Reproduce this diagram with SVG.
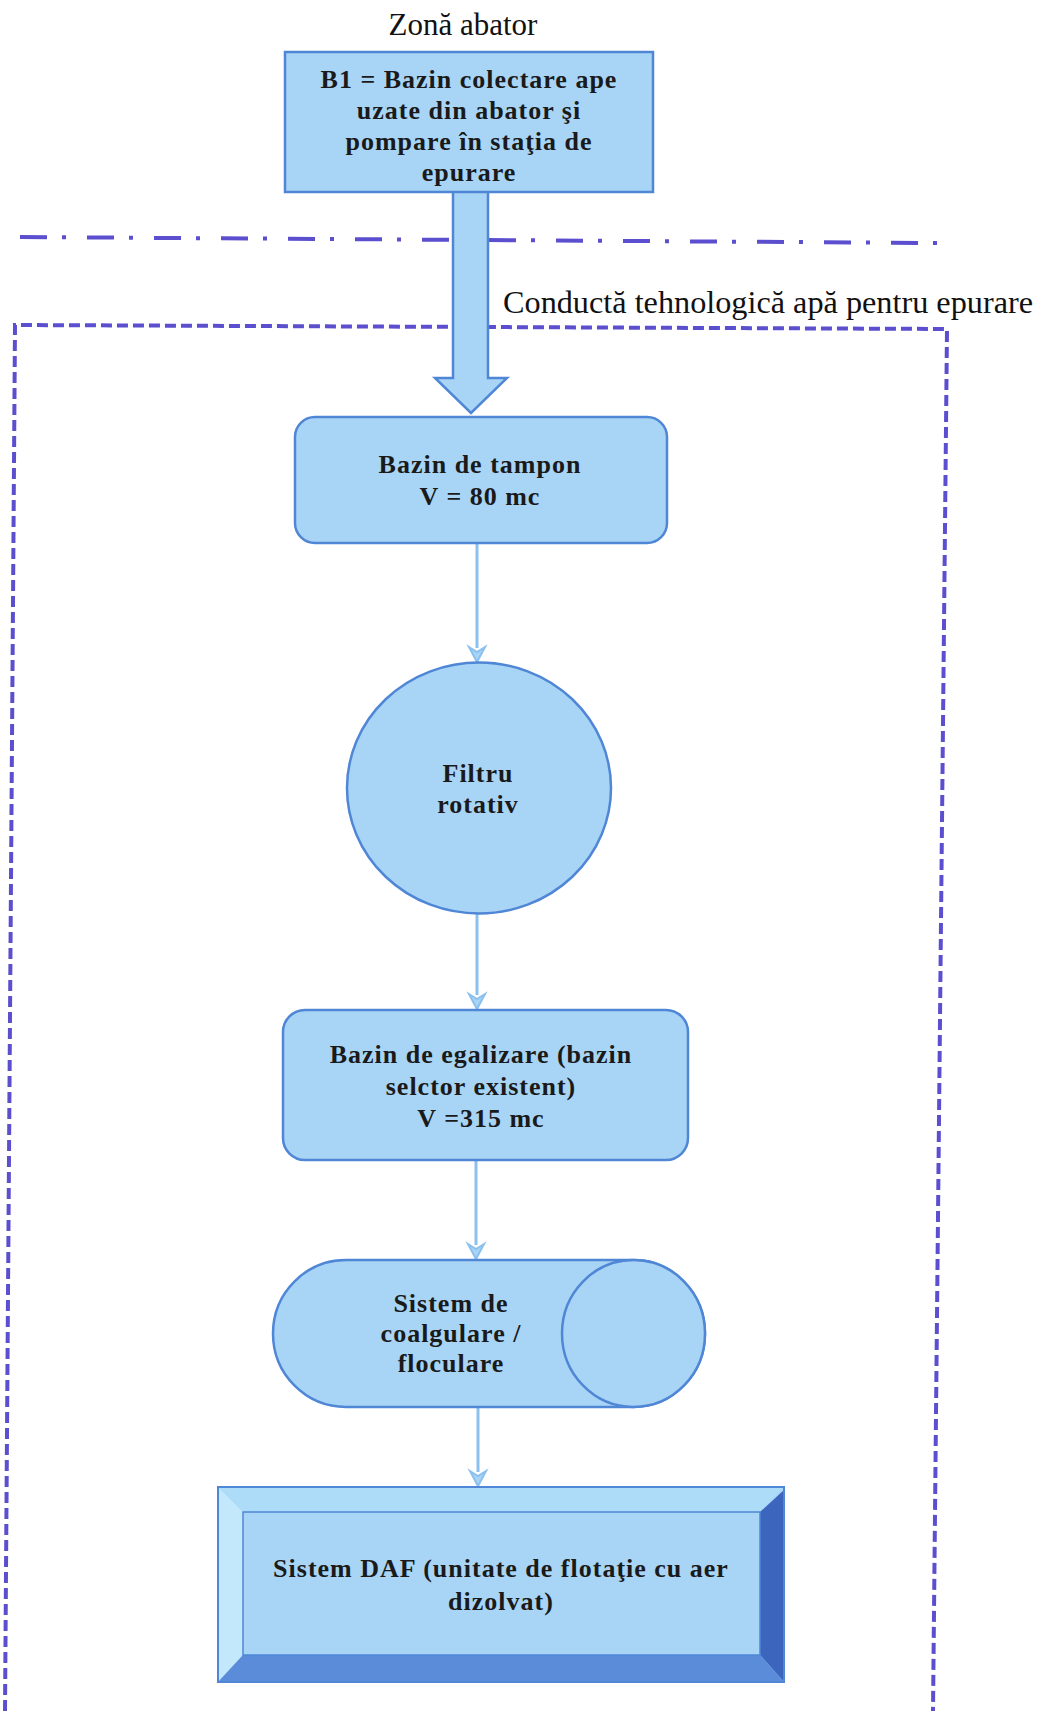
<svg xmlns="http://www.w3.org/2000/svg" width="1045" height="1711" viewBox="0 0 1045 1711">
<defs>
<style>
.box{fill:#a8d5f6;stroke:#4f86d6;stroke-width:2.5}
.lbl{font-family:"Liberation Serif","Times New Roman",serif;font-weight:bold;font-size:26px;letter-spacing:1px;fill:#1a1a1a;text-anchor:middle}
.cap{font-family:"Liberation Serif","Times New Roman",serif;font-size:31px;fill:#111}
.conn{stroke:#8cc0ef;stroke-width:3;fill:none}
.zone{stroke:#5b4fcf;stroke-width:4;fill:none}
</style>
</defs>
<rect width="1045" height="1711" fill="#ffffff"/>

<g id="zones">
<path class="zone" d="M20,237 L937,243" stroke-dasharray="27 15 4 21" stroke-width="5"/>
<path class="zone" d="M5,1711 L15,325 L947,329 L933,1711" stroke-dasharray="11 5" stroke-width="3.5"/>
</g>

<text class="cap" x="463" y="35" text-anchor="middle">Zonă abator</text>
<text class="cap" x="503" y="313" textLength="530" lengthAdjust="spacingAndGlyphs">Conductă tehnologică apă pentru epurare</text>

<g id="connectors">
<path id="pipe" class="box" d="M453,190 L453,378 L435,378 L471,413 L507,378 L488,378 L488,190 Z"/>
<g class="conn">
<line x1="477" y1="543" x2="477" y2="648"/>
<line x1="477" y1="914" x2="477" y2="995"/>
<line x1="476" y1="1160" x2="476" y2="1245"/>
<line x1="478" y1="1407" x2="478" y2="1472"/>
</g>
<g fill="#a8d5f6" stroke="#8cc0ef" stroke-width="2">
<path d="M469,647 L477,662 L485,647 L477,652 Z"/>
<path d="M469,994 L477,1009 L485,994 L477,999 Z"/>
<path d="M468,1244 L476,1259 L484,1244 L476,1249 Z"/>
<path d="M470,1471 L478,1486 L486,1471 L478,1476 Z"/>
</g>
</g>

<g id="b1">
<rect class="box" x="285" y="52" width="368" height="140"/>
<text class="lbl" x="469" y="88">B1 = Bazin colectare ape</text>
<text class="lbl" x="469" y="119">uzate din abator şi</text>
<text class="lbl" x="469" y="150">pompare în staţia de</text>
<text class="lbl" x="469" y="181">epurare</text>
</g>

<g id="tampon">
<rect class="box" x="295" y="417" width="372" height="126" rx="20"/>
<text class="lbl" x="480" y="473">Bazin de tampon</text>
<text class="lbl" x="480" y="505">V = 80 mc</text>
</g>

<g id="filtru">
<ellipse class="box" cx="479" cy="788" rx="132" ry="125.5"/>
<text class="lbl" x="478" y="782">Filtru</text>
<text class="lbl" x="478" y="813">rotativ</text>
</g>

<g id="egalizare">
<rect class="box" x="283" y="1010" width="405" height="150" rx="22"/>
<text class="lbl" x="481" y="1063">Bazin de egalizare (bazin</text>
<text class="lbl" x="481" y="1095">selctor existent)</text>
<text class="lbl" x="481" y="1127">V =315 mc</text>
</g>

<g id="coagulare">
<path class="box" d="M346,1260 L633,1260 A72,73.5 0 0 1 633,1407 L346,1407 A73,73.5 0 0 1 346,1260 Z"/>
<ellipse class="box" cx="633.5" cy="1333.5" rx="71.5" ry="73.5"/>
<text class="lbl" x="451" y="1312">Sistem de</text>
<text class="lbl" x="451" y="1342">coalgulare /</text>
<text class="lbl" x="451" y="1372">floculare</text>
</g>

<g id="daf">
<rect x="218" y="1487" width="566" height="195" fill="#a8d5f6"/>
<polygon points="218,1487 784,1487 760,1512 243,1512" fill="#acdcf8"/>
<polygon points="218,1487 243,1512 243,1655 218,1682" fill="#c4e8fb"/>
<polygon points="784,1490 784,1682 760,1655 760,1512" fill="#3c66bd"/>
<polygon points="218,1682 784,1682 760,1655 243,1655" fill="#5b8cda"/>
<rect x="243" y="1512" width="517" height="143" fill="#a8d5f6" stroke="#4f86d6" stroke-width="1.5"/>
<rect x="218" y="1487" width="566" height="195" fill="none" stroke="#4f86d6" stroke-width="2"/>
<text class="lbl" x="501" y="1577">Sistem DAF (unitate de flotaţie cu aer</text>
<text class="lbl" x="501" y="1610">dizolvat)</text>
</g>
</svg>
